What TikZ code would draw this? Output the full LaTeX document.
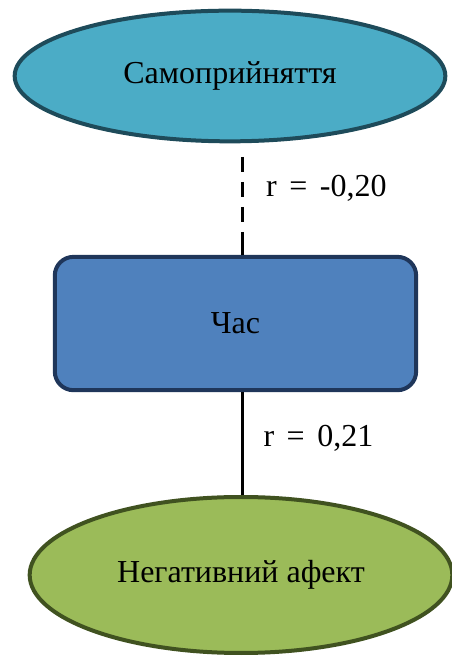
\documentclass[tikz,border=0pt]{standalone}
\usepackage{fontspec}
\setmainfont{Liberation Serif}
\usepackage{tikz}
\usetikzlibrary{shapes.geometric, positioning, calc}
\definecolor{samfill}{RGB}{75,172,198}
\definecolor{samline}{RGB}{30,75,90}
\definecolor{chasfill}{RGB}{79,129,189}
\definecolor{chasline}{RGB}{31,54,90}
\definecolor{negfill}{RGB}{155,187,89}
\definecolor{negline}{RGB}{64,82,32}
\newcommand{\gap}{\hspace{9.4pt}}

\begin{document}
\begin{tikzpicture}[
    oval/.style={ellipse, draw, line width=3pt, inner sep=0pt, align=center, font=\fontsize{24}{28}\selectfont},
    box/.style={rectangle, draw, line width=3pt, rounded corners=14pt, align=center, font=\fontsize{24}{28}\selectfont},
    link/.style={line width=2.25pt, black},
    corr/.style={inner sep=0pt, font=\fontsize{24}{28}\selectfont},
]
\useasboundingbox (0,0) rectangle (338.25pt,492.75pt);

\node[box, fill=chasfill, draw=chasline, minimum width=271pt, minimum height=100pt] (chas) at (176.6pt,250.1pt) {Час};
\node[oval, fill=samfill, draw=samline, minimum width=323pt, minimum height=98pt] (sam) at (172.5pt,435.75pt) {Самоприйняття};
\node[oval, fill=negfill, draw=negline, minimum width=317pt, minimum height=117pt] (neg) at (180.75pt,61.5pt) {\raisebox{-2pt}{Негативний афект}};
\coordinate (dtop) at ($([xshift=4.9pt]chas.north)+(0,73.5pt)$);

% correlations
\draw[link, dash pattern=on 11.25pt off 7.5pt on 11.25pt off 7.5pt on 11.25pt off 7.5pt on 20pt off 5pt] (dtop) -- ([xshift=4.9pt]chas.north)
    node[corr, pos=0.32, right=17pt] (r1) {r\gap=\gap-0,20};
\draw[link] ([xshift=4.9pt]chas.south) -- ([xshift=4.9pt]chas.south |- neg.north)
    node[corr, pos=0.45, right=15pt] (r2) {r\gap=\gap0,21};

\end{tikzpicture}
\end{document}
